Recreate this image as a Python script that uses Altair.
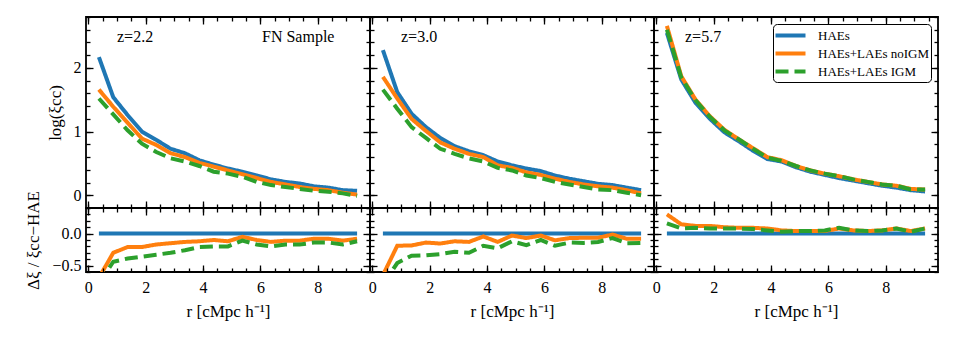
import altair as alt
import pandas as pd

FONT = "Liberation Serif"

r = [0.37, 0.87, 1.37, 1.87, 2.37, 2.87, 3.37, 3.87, 4.37, 4.87,
     5.37, 5.87, 6.37, 6.87, 7.37, 7.87, 8.37, 8.87, 9.37]

series_names = ["HAEs", "HAEs+LAEs noIGM", "HAEs+LAEs IGM"]
series_colors = ["#1f77b4", "#ff7f0e", "#2ca02c"]
series_dash = [[1, 0], [1, 0], [13, 6]]

panel_labels = ["z=2.2", "z=3.0", "z=5.7"]

# log(xi_cc), top row
z22_hae = [2.17, 1.54, 1.26, 1.00, 0.87, 0.73, 0.66, 0.55, 0.48, 0.42, 0.37, 0.31, 0.25, 0.21, 0.185, 0.14, 0.12, 0.08, 0.07]
z22_noigm = [1.66, 1.39, 1.14, 0.89, 0.79, 0.66, 0.60, 0.51, 0.45, 0.39, 0.33, 0.27, 0.21, 0.17, 0.13, 0.10, 0.08, 0.04, 0.01]
z22_igm = [1.52, 1.27, 1.02, 0.81, 0.68, 0.58, 0.53, 0.46, 0.37, 0.34, 0.29, 0.21, 0.16, 0.13, 0.10, 0.07, 0.055, 0.03, -0.01]

z30_hae = [2.28, 1.62, 1.28, 1.07, 0.90, 0.77, 0.69, 0.63, 0.53, 0.47, 0.42, 0.38, 0.31, 0.26, 0.22, 0.18, 0.16, 0.12, 0.08]
z30_noigm = [1.86, 1.52, 1.20, 1.01, 0.83, 0.73, 0.65, 0.60, 0.47, 0.43, 0.36, 0.32, 0.26, 0.21, 0.17, 0.14, 0.12, 0.08, 0.03]
z30_igm = [1.66, 1.36, 1.07, 0.90, 0.73, 0.65, 0.58, 0.53, 0.43, 0.39, 0.31, 0.27, 0.21, 0.17, 0.13, 0.09, 0.08, 0.04, 0.0]

z57_hae = [2.55, 1.82, 1.45, 1.20, 0.99, 0.85, 0.70, 0.57, 0.53, 0.44, 0.37, 0.32, 0.27, 0.23, 0.19, 0.15, 0.12, 0.08, 0.06]
z57_noigm = [2.66, 1.87, 1.50, 1.24, 1.03, 0.88, 0.74, 0.60, 0.55, 0.46, 0.39, 0.34, 0.30, 0.25, 0.21, 0.17, 0.15, 0.10, 0.09]
z57_igm = [2.60, 1.85, 1.49, 1.23, 1.02, 0.88, 0.73, 0.59, 0.54, 0.46, 0.39, 0.34, 0.30, 0.25, 0.21, 0.17, 0.15, 0.09, 0.09]

# relative difference, bottom row
res_hae = [0.0, 0.0, 0.0, 0.0, 0.0, 0.0, 0.0, 0.0, 0.0, 0.0, 0.0, 0.0, 0.0, 0.0, 0.0, 0.0, 0.0, 0.0, 0.0]
res22_noigm = [-0.69, -0.30, -0.21, -0.21, -0.17, -0.15, -0.13, -0.12, -0.10, -0.12, -0.05, -0.10, -0.13, -0.11, -0.11, -0.08, -0.08, -0.11, -0.08]
res22_igm = [-0.78, -0.44, -0.39, -0.36, -0.33, -0.30, -0.26, -0.21, -0.20, -0.20, -0.11, -0.17, -0.20, -0.17, -0.17, -0.14, -0.14, -0.17, -0.12]
res30_noigm = [-0.65, -0.19, -0.185, -0.14, -0.155, -0.12, -0.13, -0.045, -0.13, -0.03, -0.07, -0.03, -0.105, -0.07, -0.065, -0.065, -0.015, -0.08, -0.08]
res30_igm = [-0.80, -0.46, -0.345, -0.34, -0.32, -0.285, -0.30, -0.19, -0.23, -0.12, -0.18, -0.10, -0.19, -0.14, -0.145, -0.13, -0.07, -0.15, -0.145]
res57_noigm = [0.30, 0.145, 0.12, 0.12, 0.10, 0.09, 0.09, 0.08, 0.05, 0.04, 0.04, 0.04, 0.08, 0.05, 0.04, 0.05, 0.08, 0.04, 0.08]
res57_igm = [0.16, 0.08, 0.09, 0.08, 0.08, 0.08, 0.07, 0.05, 0.03, 0.04, 0.04, 0.05, 0.09, 0.05, 0.04, 0.05, 0.08, 0.03, 0.08]

top_series = [[z22_hae, z22_noigm, z22_igm], [z30_hae, z30_noigm, z30_igm], [z57_hae, z57_noigm, z57_igm]]
bot_series = [[res_hae, res22_noigm, res22_igm], [res_hae, res30_noigm, res30_igm], [res_hae, res57_noigm, res57_igm]]

x_major = [0, 2, 4, 6, 8]
x_minor = [i * 0.5 for i in range(20)]
y_top_major = [0, 1, 2]
y_top_minor = [round(-0.2 + 0.2 * i, 2) for i in range(16)]
y_bot_major = [-0.5, 0.0]
y_bot_minor = [round(-0.6 + 0.1 * i, 2) for i in range(11)]

X_DOM = [-0.08, 9.82]
Y_TOP_DOM = [-0.2, 2.8]
Y_BOT_DOM = [-0.6, 0.4]
W = 284
H_TOP = 191
H_BOT = 64


def make_df(series_list):
    rows = []
    for name, vals in zip(series_names, series_list):
        for rv, v in zip(r, vals):
            rows.append({"r": rv, "value": v, "series": name})
    return pd.DataFrame(rows)


def tick_axis(orient, offset, values, size):
    return alt.Axis(orient=orient, offset=offset, values=values, tickSize=size,
                    labels=False, domain=False, grid=False, title=None,
                    ticks=True, tickColor="black", tickWidth=1.3, zindex=1)


def make_panel(row, col):
    H = H_TOP if row == 0 else H_BOT
    ydom = Y_TOP_DOM if row == 0 else Y_BOT_DOM
    ymaj = y_top_major if row == 0 else y_bot_major
    ymin = y_top_minor if row == 0 else y_bot_minor
    df = make_df(top_series[col] if row == 0 else bot_series[col])
    xs = alt.Scale(domain=X_DOM, nice=False, zero=False)
    ys = alt.Scale(domain=ydom, nice=False, zero=False)

    if row == 1:
        xaxis = alt.Axis(orient="bottom", title="r [cMpc h⁻¹]", values=x_major, format="d",
                         ticks=False, domain=False, grid=False, labelPadding=7, titlePadding=8)
    else:
        xaxis = None
    if col == 0:
        yaxis = alt.Axis(orient="left",
                         title="log(ξcc)" if row == 0 else "Δξ / ξcc−HAE",
                         values=ymaj, format="d" if row == 0 else ".1f",
                         ticks=False, domain=False, grid=False, labelPadding=5, titlePadding=9)
    else:
        yaxis = None

    show_legend = (row == 0 and col == 2)
    if show_legend:
        legend = alt.Legend(title=None, orient="top-right", offset=7, padding=2,
                            strokeColor="black", fillColor="white", cornerRadius=4,
                            symbolType="M-2,0H2", symbolStrokeWidth=4, symbolSize=225,
                            symbolOffset=6, labelOffset=18,
                            labelFont=FONT, labelFontSize=13, rowPadding=0,
                            labelLimit=0, labelColor="black")
    else:
        legend = None

    lines = alt.Chart(df).mark_line(strokeWidth=4, clip=True, strokeCap="butt").encode(
        x=alt.X("r:Q", scale=xs, axis=xaxis),
        y=alt.Y("value:Q", scale=ys, axis=yaxis),
        color=alt.Color("series:N", sort=series_names,
                        scale=alt.Scale(domain=series_names, range=series_colors), legend=legend),
        strokeDash=alt.StrokeDash("series:N", sort=series_names,
                                  scale=alt.Scale(domain=series_names, range=series_dash), legend=legend),
    )
    layers = [lines]
    for xo, yo, xv, yv, size in [("top", "right", x_major, ymaj, 7),
                                 ("bottom", "left", x_major, ymaj, 7),
                                 ("top", "right", x_minor, ymin, 4),
                                 ("bottom", "left", x_minor, ymin, 4)]:
        layers.append(
            alt.Chart(df).mark_point(opacity=0, clip=True).encode(
                x=alt.X("r:Q", scale=xs, axis=tick_axis(xo, -H, xv, size)),
                y=alt.Y("value:Q", scale=ys, axis=tick_axis(yo, -W, yv, size)),
            )
        )
    if row == 0:
        layers.append(
            alt.Chart(pd.DataFrame({"t": [panel_labels[col]]})).mark_text(
                font=FONT, fontSize=16, align="left", baseline="middle", color="black"
            ).encode(x=alt.value(31), y=alt.value(20), text="t:N")
        )
        if col == 0:
            layers.append(
                alt.Chart(pd.DataFrame({"t": ["FN Sample"]})).mark_text(
                    font=FONT, fontSize=16, align="left", baseline="middle", color="black"
                ).encode(x=alt.value(176), y=alt.value(20), text="t:N")
            )
    return alt.layer(*layers).resolve_axis(x="independent", y="independent").properties(width=W, height=H)


panels = [make_panel(row, col) for row in range(2) for col in range(3)]

chart = alt.concat(*panels, columns=3, spacing=0, bounds="flush").resolve_scale(
    color="independent", strokeDash="independent"
).resolve_legend(
    color="independent", strokeDash="independent"
).properties(
    padding={"left": 16, "top": 7, "right": 5, "bottom": 5}
).configure_view(
    stroke="black", strokeWidth=1.8
).configure_axis(
    labelFont=FONT, titleFont=FONT, labelFontSize=16, titleFontSize=17,
    labelColor="black", titleColor="black", titleFontWeight="normal"
)

chart.save("out.html", embed_options={"renderer": "svg", "actions": False})
